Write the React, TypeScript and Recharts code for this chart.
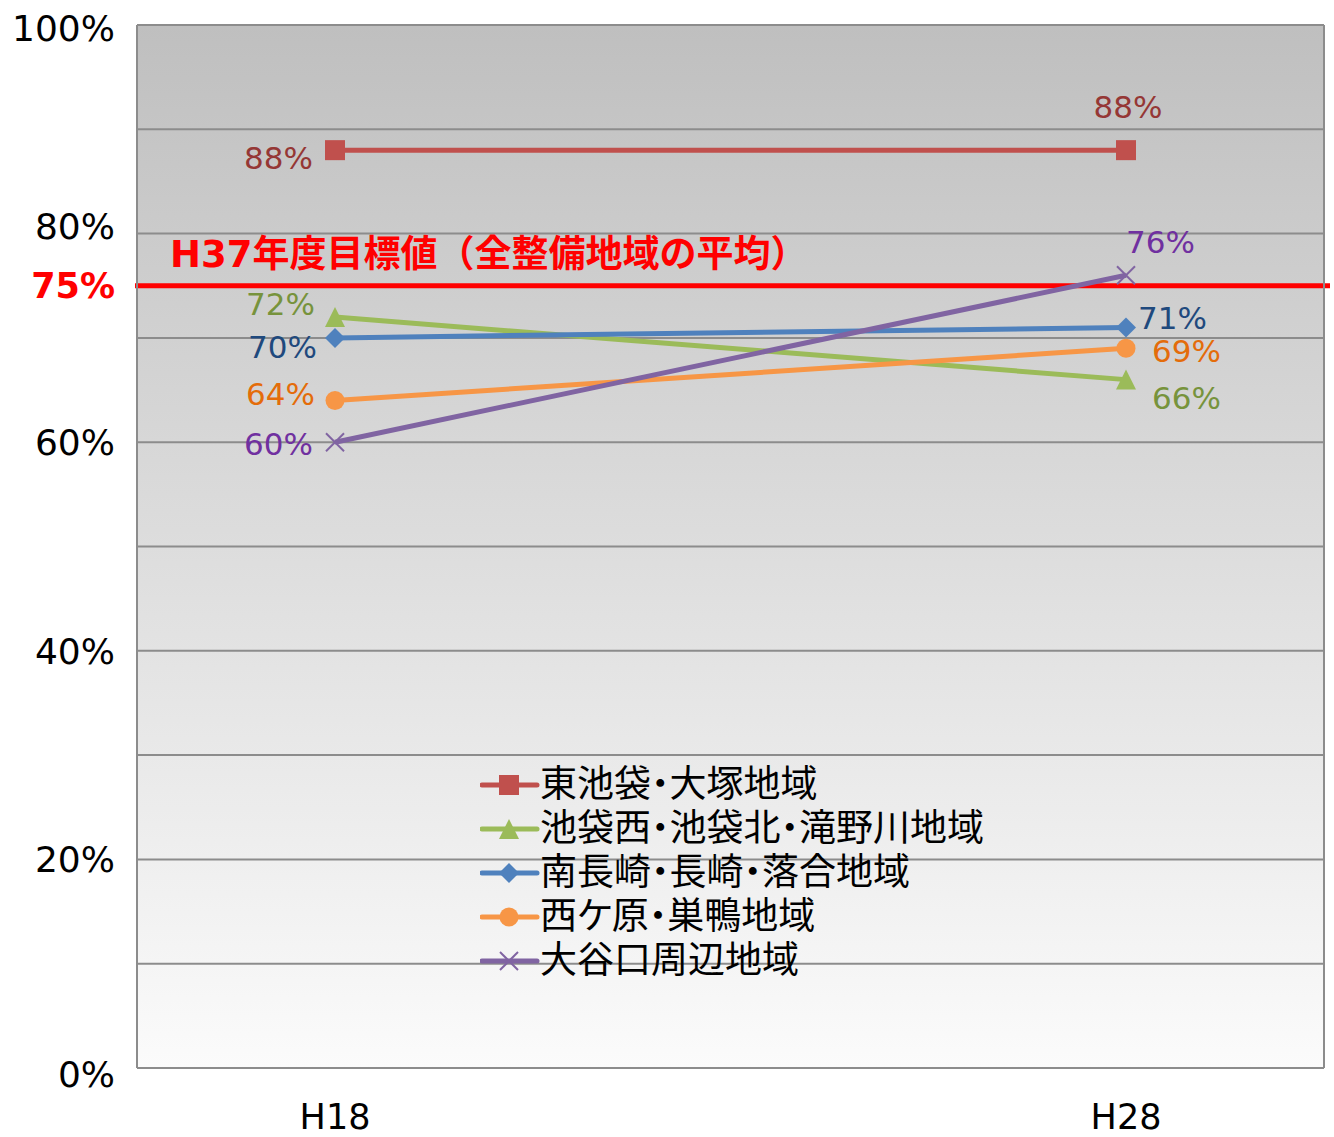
import React from "react";
import {
  CartesianGrid, Line, LineChart, ReferenceLine, XAxis, YAxis,
} from "recharts";

const years = ["H18", "H28"];
const higashiIkebukuro = [88, 88];
const ikebukuroNishi = [72, 66];
const minamiNagasaki = [70, 71];
const nishigahara = [64, 69];
const ooyaguchi = [60, 76];
const yTicks = [0, 10, 20, 30, 40, 50, 60, 70, 75, 80, 90, 100];
const targetValue = 75;
const targetLabel = "H37年度目標値（全整備地域の平均）";

const FONT = "'DejaVu Sans', 'Noto Sans CJK JP', sans-serif";

type Marker = "square" | "triangle" | "diamond" | "circle" | "cross";
type LabelPos = { dx: number; dy: number; anchor: "start" | "middle" | "end" };

const series: {
  key: string; name: string; values: number[]; color: string; labelColor: string;
  marker: Marker; labels: LabelPos[];
}[] = [
  {
    key: "s1", name: "東池袋・大塚地域", values: higashiIkebukuro, color: "#C0504D", labelColor: "#953735",
    marker: "square", labels: [{ dx: -22, dy: 8, anchor: "end" }, { dx: 2, dy: -43, anchor: "middle" }],
  },
  {
    key: "s2", name: "池袋西・池袋北・滝野川地域", values: ikebukuroNishi, color: "#9BBB59", labelColor: "#77933C",
    marker: "triangle", labels: [{ dx: -20, dy: -13, anchor: "end" }, { dx: 26, dy: 18, anchor: "start" }],
  },
  {
    key: "s3", name: "南長崎・長崎・落合地域", values: minamiNagasaki, color: "#4F81BD", labelColor: "#1F497D",
    marker: "diamond", labels: [{ dx: -18, dy: 9, anchor: "end" }, { dx: 12, dy: -10, anchor: "start" }],
  },
  {
    key: "s4", name: "西ケ原・巣鴨地域", values: nishigahara, color: "#F79646", labelColor: "#E46C0A",
    marker: "circle", labels: [{ dx: -20, dy: -7, anchor: "end" }, { dx: 26, dy: 3, anchor: "start" }],
  },
  {
    key: "s5", name: "大谷口周辺地域", values: ooyaguchi, color: "#8064A2", labelColor: "#7030A0",
    marker: "cross", labels: [{ dx: -22, dy: 2, anchor: "end" }, { dx: 0, dy: -33, anchor: "start" }],
  },
];

const data = years.map((y, i) => {
  const row: Record<string, string | number> = { year: y };
  series.forEach((s) => { row[s.key] = s.values[i]; });
  return row;
});

function MarkerShape({ type, cx, cy, color }: { type: Marker; cx: number; cy: number; color: string }) {
  const r = 10;
  switch (type) {
    case "square":
      return <rect x={cx - r} y={cy - r} width={2 * r} height={2 * r} fill={color} />;
    case "triangle":
      return <polygon points={`${cx},${cy - r} ${cx + r},${cy + r} ${cx - r},${cy + r}`} fill={color} />;
    case "diamond":
      return <polygon points={`${cx},${cy - r} ${cx + r},${cy} ${cx},${cy + r} ${cx - r},${cy}`} fill={color} />;
    case "circle":
      return <circle cx={cx} cy={cy} r={9.5} fill={color} />;
    default:
      return (
        <g stroke={color} strokeWidth={2}>
          <line x1={cx - 9} y1={cy - 9} x2={cx + 9} y2={cy + 9} />
          <line x1={cx - 9} y1={cy + 9} x2={cx + 9} y2={cy - 9} />
        </g>
      );
  }
}

function YTick(props: any) {
  const { x, y, payload } = props;
  const v = payload.value as number;
  if (v === targetValue) {
    return (
      <text x={x} y={y} dy="0.36em" textAnchor="end" fill="#FF0000" fontSize={35} fontWeight="bold" fontFamily={FONT}>
        {v}%
      </text>
    );
  }
  if (v % 20 !== 0) return <g />;
  // the source nudges a few labels off their gridline
  const shift = v === 80 ? -8 : v === 0 ? 6 : v === 100 ? 3 : 0;
  return (
    <text x={x} y={y + shift} dy="0.36em" textAnchor="end" fill="#000" fontSize={36} fontFamily={FONT}>
      {v}%
    </text>
  );
}

function ChartLegend() {
  return (
    <div
      style={{
        position: "absolute", left: 480, top: 763,
        fontFamily: FONT, fontSize: 37, color: "#000", lineHeight: "44px",
        fontFeatureSettings: "'palt'",
      }}
    >
      {series.map((s) => (
        <div key={s.key} style={{ display: "flex", alignItems: "center", height: 44, whiteSpace: "nowrap" }}>
          <svg width={60} height={44} style={{ display: "block" }}>
            <line x1={2} x2={57} y1={22} y2={22} stroke={s.color} strokeWidth={5} strokeLinecap="round" />
            <MarkerShape type={s.marker} cx={29} cy={22} color={s.color} />
          </svg>
          <span>{s.name}</span>
        </div>
      ))}
    </div>
  );
}

export default function App() {
  return (
    <div style={{ position: "absolute", left: 0, top: 0, width: 1334, height: 1137, background: "#fff" }}>
      <LineChart width={1334} height={1137} data={data} margin={{ top: 25, right: 0, left: 0, bottom: 0 }}>
        <defs>
          <linearGradient id="plotBg" x1="0" y1="0" x2="0" y2="1">
            <stop offset="0%" stopColor="#BFBFBF" />
            <stop offset="100%" stopColor="#FBFBFB" />
          </linearGradient>
        </defs>
        <CartesianGrid
          yAxisId="left"
          vertical={false}
          fill="url(#plotBg)"
          stroke="#8C8C8C"
          strokeWidth={2}
        />
        <XAxis
          dataKey="year"
          padding={{ left: 198, right: 198 }}
          height={69}
          tickLine={false}
          tickSize={0}
          tickMargin={36}
          axisLine={{ stroke: "#8C8C8C", strokeWidth: 2 }}
          tick={{ fontSize: 35, fill: "#000", fontFamily: FONT }}
        />
        <YAxis
          yAxisId="left"
          width={137}
          domain={[0, 100]}
          ticks={yTicks}
          interval={0}
          tickLine={false}
          tickSize={0}
          tickMargin={22}
          axisLine={{ stroke: "#8C8C8C", strokeWidth: 2 }}
          tick={<YTick />}
        />
        <YAxis
          yAxisId="right"
          orientation="right"
          width={10}
          domain={[0, 100]}
          tick={false}
          tickLine={false}
          axisLine={{ stroke: "#8C8C8C", strokeWidth: 2 }}
        />
        <ReferenceLine
          yAxisId="left"
          y={targetValue}
          stroke="#FF0000"
          strokeWidth={5}
          ifOverflow="visible"
          shape={(p: any) => (
            <line x1={p.x1 - 2} x2={p.x2 + 6} y1={p.y1} y2={p.y2} stroke="#FF0000" strokeWidth={5} />
          )}
          label={(p: any) => (
            <text
              x={(p.viewBox?.x ?? 137) + 33}
              y={(p.viewBox?.y ?? 286) - 19}
              fill="#FF0000"
              fontSize={37}
              fontWeight="bold"
              fontFamily={FONT}
            >
              {targetLabel}
            </text>
          )}
        />
        {series.map((s) => (
          <Line
            key={s.key}
            yAxisId="left"
            type="linear"
            dataKey={s.key}
            name={s.name}
            stroke={s.color}
            strokeWidth={5}
            isAnimationActive={false}
            dot={(p: any) => <MarkerShape key={`${s.key}-${p.index}`} type={s.marker} cx={p.cx} cy={p.cy} color={s.color} />}
            activeDot={false}
            label={(p: any) => {
              const pos = s.labels[p.index];
              return (
                <text
                  key={`${s.key}-l-${p.index}`}
                  x={p.x + pos.dx}
                  y={p.y + pos.dy}
                  dy="0.36em"
                  textAnchor={pos.anchor}
                  fill={s.labelColor}
                  fontSize={31}
                  fontFamily={FONT}
                >
                  {p.value}%
                </text>
              );
            }}
          />
        ))}
      </LineChart>
      <ChartLegend />
    </div>
  );
}
